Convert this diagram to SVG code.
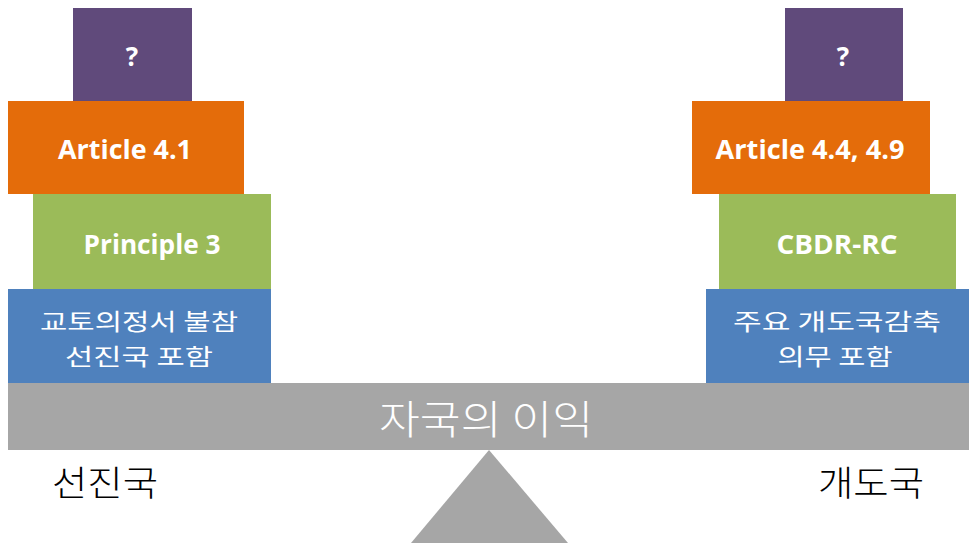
<svg xmlns="http://www.w3.org/2000/svg" width="969" height="544" viewBox="0 0 969 544">
<style>
.p{fill:#604A7B}.o{fill:#E46C0A}.g{fill:#9BBB59}.b{fill:#4F81BD}.gr{fill:#A6A6A6}
.en{font-family:"Open Sans","Liberation Sans",sans-serif;font-weight:bold;fill:#fff;text-anchor:middle}
.ko{font-family:"Noto Sans CJK KR",sans-serif;fill:#fff;text-anchor:middle}
.kb{font-family:"Noto Sans CJK KR",sans-serif;fill:#000;font-weight:300;text-anchor:middle}
</style>
<g id="left-q"><rect class="p" x="73" y="8" width="119" height="93"/><text class="en" x="132" y="66" font-size="26">?</text></g>
<g id="left-article"><rect class="o" x="8" y="101" width="236" height="93"/><text class="en" x="125" y="159" font-size="27" textLength="134" lengthAdjust="spacingAndGlyphs">Article 4.1</text></g>
<g id="left-principle"><rect class="g" x="33" y="194" width="238" height="95"/><text class="en" x="152" y="254" font-size="26" textLength="137" lengthAdjust="spacingAndGlyphs">Principle 3</text></g>
<g id="left-kyoto"><rect class="b" x="8" y="289" width="263" height="94"/>
<text class="ko" x="139" y="330" font-size="23" textLength="198" lengthAdjust="spacingAndGlyphs">교토의정서 불참</text>
<text class="ko" x="139" y="365" font-size="23" textLength="148" lengthAdjust="spacingAndGlyphs">선진국 포함</text></g>
<g id="right-q"><rect class="p" x="785" y="8" width="118" height="93"/><text class="en" x="843" y="66" font-size="26">?</text></g>
<g id="right-article"><rect class="o" x="692" y="101" width="238" height="93"/><text class="en" x="810" y="159" font-size="27" textLength="189" lengthAdjust="spacingAndGlyphs">Article 4.4, 4.9</text></g>
<g id="right-cbdr"><rect class="g" x="719" y="194" width="237" height="95"/><text class="en" x="837" y="254" font-size="26" textLength="121" lengthAdjust="spacingAndGlyphs">CBDR-RC</text></g>
<g id="right-major"><rect class="b" x="706" y="289" width="263" height="94"/>
<text class="ko" x="837" y="330" font-size="23" textLength="208" lengthAdjust="spacingAndGlyphs">주요 개도국감축</text>
<text class="ko" x="835" y="365" font-size="23" textLength="115" lengthAdjust="spacingAndGlyphs">의무 포함</text></g>
<g id="beam"><rect class="gr" x="8" y="383" width="961" height="67"/>
<text class="ko" x="486" y="434" font-size="40" font-weight="300" textLength="214" lengthAdjust="spacingAndGlyphs">자국의 이익</text></g>
<g id="fulcrum"><polygon class="gr" points="489,450 568,543 411,543"/></g>
<g id="label-left"><text class="kb" x="105" y="496" font-size="35" textLength="106" lengthAdjust="spacingAndGlyphs">선진국</text></g>
<g id="label-right"><text class="kb" x="871" y="496" font-size="35" textLength="106" lengthAdjust="spacingAndGlyphs">개도국</text></g>
</svg>
